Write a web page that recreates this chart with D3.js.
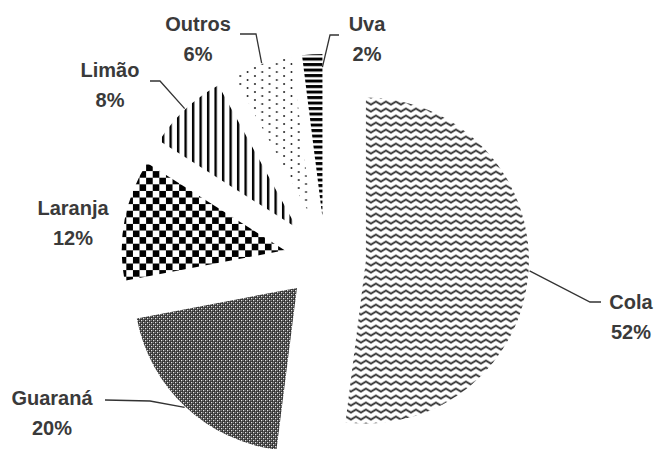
<!DOCTYPE html>
<html>
<head>
<meta charset="utf-8">
<script src="https://cdn.jsdelivr.net/npm/d3@7/dist/d3.min.js"></script>
<style>
  body { margin: 0; background: #fff; }
  text { font-family: "Liberation Sans", Arial, sans-serif; font-weight: bold; font-size: 20px; fill: #3a3a3a; }
</style>
</head>
<body>
<svg id="chart" width="654" height="449"></svg>
<script>
// data
const categories = ['Cola', 'Guaraná', 'Laranja', 'Limão', 'Outros', 'Uva'];
const shares = [52, 20, 12, 8, 6, 2];
const pctLabels = ['52%', '20%', '12%', '8%', '6%', '2%'];

// label placement (x = text centre, y = first baseline), leader elbow/end points
const labelLayout = [
  { x: 631, y: 309, leader: [[590, 302], [601, 302]] },
  { x: 52, y: 405, leader: [[150, 401], [105, 400]] },
  { x: 73, y: 215, leader: null },
  { x: 110, y: 77, leader: [[160, 81], [150, 81]] },
  { x: 198, y: 31, leader: [[256, 34], [240, 34]] },
  { x: 367, y: 31, leader: [[330, 35], [339, 35]], anchorAngle: 0, anchorR: 150 },
];

const svg = d3.select('#chart');
const center = { x: 325, y: 258 };
const radius = 163;
const explode = 41;

// fill patterns
const defs = svg.append('defs');

const wave = defs.append('pattern').attr('id', 'p-wave')
  .attr('patternUnits', 'userSpaceOnUse').attr('width', 10).attr('height', 7);
wave.append('path')
  .attr('d', 'M-5,5 L0,2 L5,5 L10,2 L15,5')
  .attr('fill', 'none').attr('stroke', '#1e1e1e').attr('stroke-width', 1.8);

const diamond = defs.append('pattern').attr('id', 'p-diamond')
  .attr('patternUnits', 'userSpaceOnUse').attr('width', 4).attr('height', 4);
diamond.append('rect').attr('width', 4).attr('height', 4).attr('fill', '#262626');
diamond.append('rect').attr('x', 0).attr('y', 0).attr('width', 1.3).attr('height', 1.3).attr('fill', '#fff');
diamond.append('rect').attr('x', 2).attr('y', 2).attr('width', 1.3).attr('height', 1.3).attr('fill', '#fff');
diamond.append('rect').attr('x', 2).attr('y', 0).attr('width', 1).attr('height', 1).attr('fill', '#888');
diamond.append('rect').attr('x', 0).attr('y', 2).attr('width', 1).attr('height', 1).attr('fill', '#888');

const checker = defs.append('pattern').attr('id', 'p-checker')
  .attr('patternUnits', 'userSpaceOnUse').attr('width', 13.2).attr('height', 13.2);
checker.append('rect').attr('width', 13.2).attr('height', 13.2).attr('fill', '#fff');
checker.append('rect').attr('width', 6.6).attr('height', 6.6).attr('fill', '#000');
checker.append('rect').attr('x', 6.6).attr('y', 6.6).attr('width', 6.6).attr('height', 6.6).attr('fill', '#000');

const vlines = defs.append('pattern').attr('id', 'p-vlines')
  .attr('patternUnits', 'userSpaceOnUse').attr('width', 7.5).attr('height', 10);
vlines.append('rect').attr('width', 2.4).attr('height', 10).attr('fill', '#000');

const dots = defs.append('pattern').attr('id', 'p-dots')
  .attr('patternUnits', 'userSpaceOnUse').attr('width', 14.6).attr('height', 8);
dots.append('circle').attr('cx', 1).attr('cy', 1).attr('r', 0.95).attr('fill', '#111');
dots.append('circle').attr('cx', 8.3).attr('cy', 5).attr('r', 0.95).attr('fill', '#111');

const hlines = defs.append('pattern').attr('id', 'p-hlines')
  .attr('patternUnits', 'userSpaceOnUse').attr('width', 10).attr('height', 5.5);
hlines.append('rect').attr('width', 10).attr('height', 3).attr('fill', '#000');

const fills = ['url(#p-wave)', 'url(#p-diamond)', 'url(#p-checker)', 'url(#p-vlines)', 'url(#p-dots)', 'url(#p-hlines)'];

const data = categories.map((c, i) => ({ name: c, value: shares[i], pct: pctLabels[i], fill: fills[i], layout: labelLayout[i] }));

const pie = d3.pie().sort(null).value(d => d.value).startAngle(0).endAngle(2 * Math.PI);
const arc = d3.arc().innerRadius(0).outerRadius(radius);
const arcs = pie(data);

const polar = (r, a) => [r * Math.sin(a), -r * Math.cos(a)];

const g = svg.append('g').attr('transform', `translate(${center.x},${center.y})`);

arcs.forEach(s => {
  const mid = (s.startAngle + s.endAngle) / 2;
  const [ox, oy] = polar(explode, mid);
  s.offset = [ox, oy];
  s.mid = mid;
  g.append('path')
    .attr('transform', `translate(${ox},${oy})`)
    .attr('d', arc(s))
    .attr('fill', s.data.fill);
});

// leader lines and labels
arcs.forEach(s => {
  const L = s.data.layout;
  if (L.leader) {
    const a = L.anchorAngle !== undefined ? L.anchorAngle : s.mid;
    const r = L.anchorR || radius + 1;
    const [px, py] = polar(r, a);
    const start = [center.x + s.offset[0] + px, center.y + s.offset[1] + py];
    svg.append('path')
      .attr('d', d3.line()([start, ...L.leader]))
      .attr('fill', 'none')
      .attr('stroke', '#333')
      .attr('stroke-width', 1.3);
  }
  const t = svg.append('text').attr('text-anchor', 'middle');
  t.append('tspan').attr('x', L.x).attr('y', L.y).text(s.data.name);
  t.append('tspan').attr('x', L.x).attr('y', L.y + 30).text(s.data.pct);
});
</script>
</body>
</html>
